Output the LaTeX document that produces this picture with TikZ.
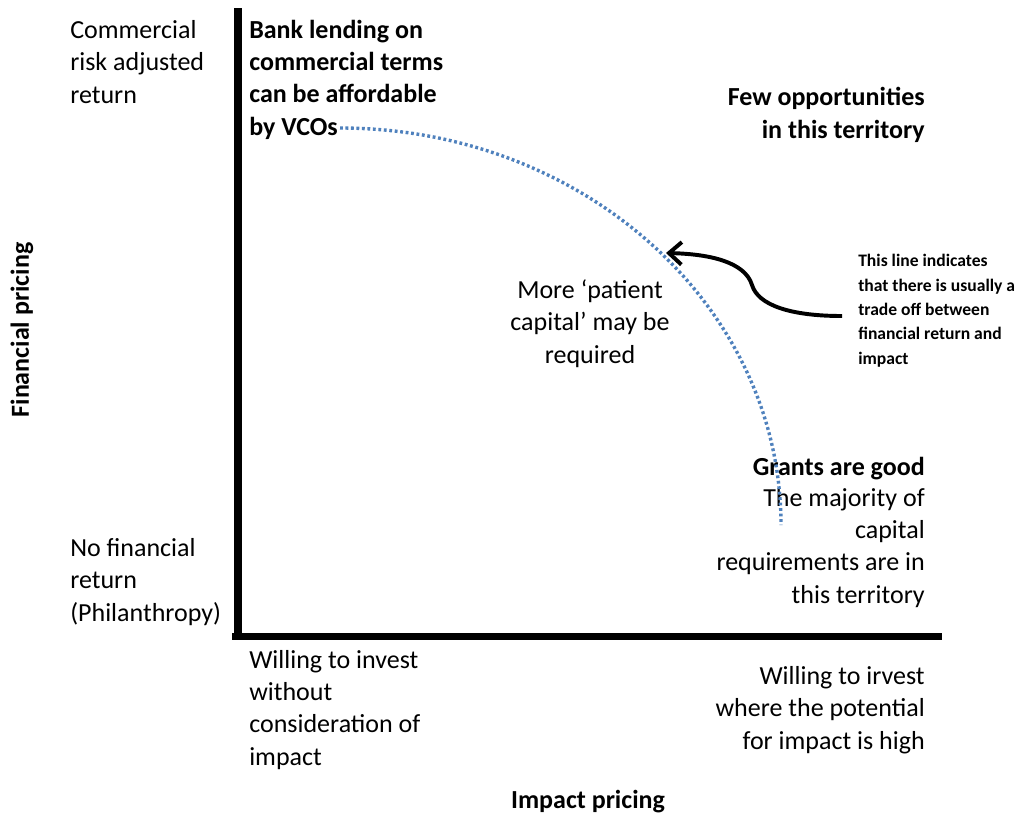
\documentclass[tikz,border=0pt]{standalone}
\usepackage{fontspec}
\setmainfont{Carlito}
\usetikzlibrary{arrows.meta}

\definecolor{curveblue}{RGB}{79,129,189}

\begin{document}
\begin{tikzpicture}[x=0.025cm, y=-0.025cm]
  \tikzset{lbl/.style={inner sep=0pt, font=\fontsize{18.5}{22.8}\selectfont},
           hd/.style={lbl, font=\fontsize{18.5}{22.8}\selectfont\bfseries},
           note/.style={inner sep=0pt, align=left,
                        font=\fontsize{12.5}{17.3}\selectfont\bfseries}}
  \useasboundingbox (0, 0) rectangle (1017, 818);

  % axes
  \coordinate (top) at (238, 8);
  \coordinate (origin) at (238, 636);
  \coordinate (right) at (942, 636);
  \draw [line width=5pt] (top) -- (origin);
  \draw [line width=5pt] (232, 636) -- (right);

  % labels along the vertical axis (placed by their last baseline)
  \node [lbl, align=left, anchor=base west] (risk) at (70, 103)
        {Commercial\\risk adjusted\\return};
  \node [lbl, align=left, anchor=base west] (noret) at (70, 621)
        {No financial\\return\\(Philanthropy)};
  \node [hd, rotate=90] (ylabel) at (22, 330) {Financial pricing};

  % labels along the horizontal axis
  \node [lbl, align=left, anchor=base west] (noimpact) at (249, 765)
        {Willing to invest\\without\\consideration of\\impact};
  \node [lbl, align=right, anchor=base east] (highimpact) at (925, 749)
        {Willing to irvest\\where the potential\\for impact is high};
  \node [hd] (xlabel) at (588, 802) {Impact pricing};

  % texts in the field
  \node [hd, align=left, anchor=base west] (bank) at (249, 135)
        {Bank lending on\\commercial terms\\can be affordable\\by VCOs};
  \node [hd, align=right, anchor=base east] (few) at (925, 138)
        {Few opportunities\\in this territory};
  \node [lbl, align=center, anchor=base] (patient) at (590, 363)
        {More ‘patient\\capital’ may be\\required};
  \node [hd, anchor=base east] (grants) at (925, 475) {Grants are good};
  \node [lbl, align=right, anchor=base east] (majority) at (925, 603)
        {The majority of\\capital\\requirements are in\\this territory};
  \node [note, anchor=base west] (tradenote) at (858, 364)
        {This line indicates\\that there is usually a\\trade off between\\financial return and\\impact};

  % trade-off curve
  \coordinate (curvestart) at (340, 128);
  \coordinate (curveend) at (781, 525);
  \draw [curveblue, line width=2.4pt, dash pattern=on 2pt off 1.9pt]
        (curvestart) .. controls (583, 128) and (781, 306) .. (curveend);

  % pointer to the curve
  \coordinate (tail) at (842, 316);
  \coordinate (tradeoff) at (666, 253);
  \draw [line width=2.8pt, -{Straight Barb[length=9pt, width=16pt]}]
        (tail) .. controls (790, 316) and (758, 305) .. (752, 285)
        .. controls (745, 262) and (710, 254) .. (tradeoff);

\end{tikzpicture}
\end{document}
